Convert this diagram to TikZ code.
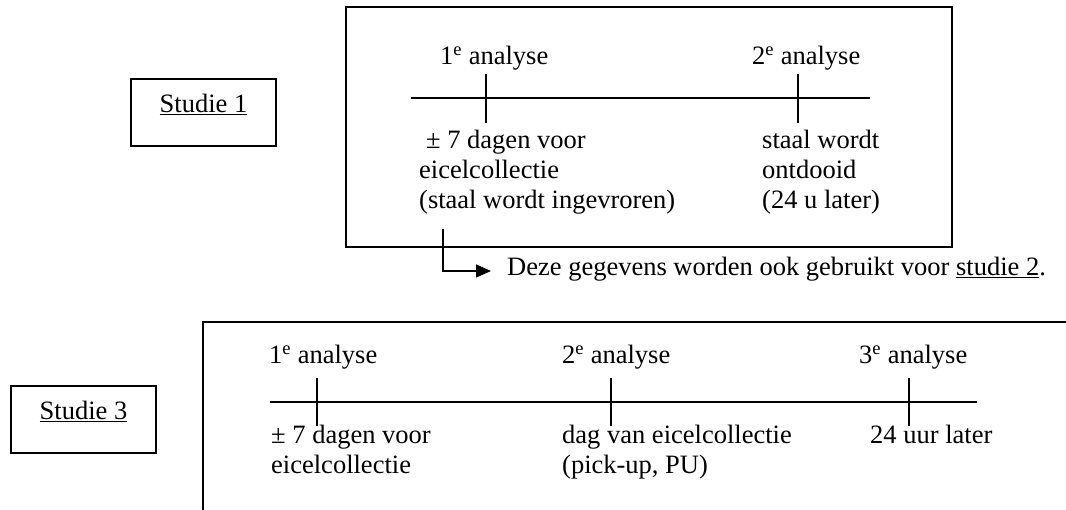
\documentclass[tikz,border=0pt]{standalone}
\usepackage{fontspec}
\setmainfont{Liberation Serif}
\usetikzlibrary{positioning,arrows.meta}

\begin{document}
\begin{tikzpicture}[
    x=1pt, y=-1pt,
    lbl/.style={%
      anchor=base west,
      inner sep=0pt,
      align=left,
      font=\fontsize{26.5}{30}\selectfont,
    },
    studiebox/.style={%
      draw,
      rectangle,
      line width=1.6pt,
      inner sep=0pt,
      minimum width=145pt,
      text height=34pt,
      text depth=33pt,
      font=\fontsize{26.5}{30}\selectfont,
    },
    frame/.style={draw, line width=1.6pt},
    axis/.style={line width=1.6pt},
  ]
    \useasboundingbox (0,0) rectangle (1066,510);

    % studie 1
    \node [studiebox] (S1) at (203.5,112.5) {\underline{Studie 1}};
    \draw [frame] (346,7) rectangle (952,247);
    \coordinate (L1a) at (411,98);
    \coordinate (L1b) at (870,98);
    \draw [axis] (L1a) -- (L1b);
    \foreach \x in {486,798}
      \draw [axis] (\x,74) -- (\x,123);
    \node [lbl] (A1) at (440,65) {1\textsuperscript{e} analyse};
    \node [lbl] (A2) at (752,65) {2\textsuperscript{e} analyse};
    % multi-line labels: base is the last line
    \node [lbl] (B1) at (419,209) {\hspace{7pt}± 7 dagen voor\\eicelcollectie\\(staal wordt ingevroren)};
    \node [lbl] (B2) at (762,209) {staal wordt\\ontdooid\\(24 u later)};
    \node [lbl] (N) at (507,276) {Deze gegevens worden ook gebruikt voor \underline{studie 2}.};
    \coordinate (P) at (443,229);
    \coordinate (Q) at (491,271);
    \draw [line width=1.3pt, -{Triangle[length=15pt,width=13pt]}] (P) |- (Q);

    % studie 3
    \node [studiebox] (S3) at (83.5,419.5) {\underline{Studie 3}};
    \draw [frame] (1066,322) -- (203,322) -- (203,510);
    \coordinate (L3a) at (270,402);
    \coordinate (L3b) at (977,402);
    \draw [axis] (L3a) -- (L3b);
    \foreach \x in {317,611,909}
      \draw [axis] (\x,378) -- (\x,426);
    \node [lbl] (C1) at (269,364) {1\textsuperscript{e} analyse};
    \node [lbl] (C2) at (562,364) {2\textsuperscript{e} analyse};
    \node [lbl] (C3) at (859,364) {3\textsuperscript{e} analyse};
    \node [lbl] (D1) at (271,474) {± 7 dagen voor\\eicelcollectie};
    \node [lbl] (D2) at (562,474) {dag van eicelcollectie\\(pick-up, PU)};
    \node [lbl] (D3) at (870,444) {24 uur later};
\end{tikzpicture}
\end{document}
